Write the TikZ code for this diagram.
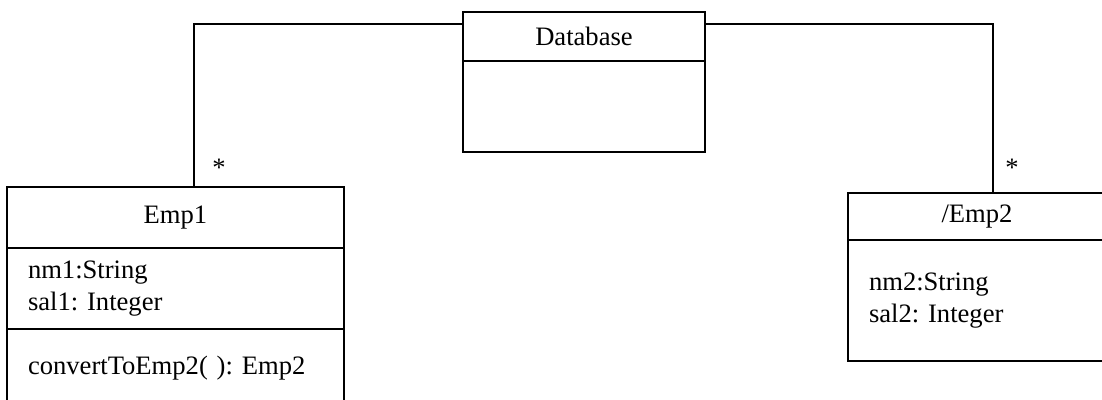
\documentclass[tikz,border=0pt]{standalone}
\usepackage{fontspec}
\setmainfont{Liberation Serif}
\usetikzlibrary{positioning}
\frenchspacing

\tikzset{
  compart/.style={draw, line width=2pt, inner sep=0pt, outer sep=0pt}, % une case de classe
  attrs/.style={compart, align=left, inner xsep=21pt}, % case des attributs
  assoc/.style={line width=2pt}, % trait d'association
  mult/.style={inner sep=0pt} % multiplicite
}

\begin{document}
\begin{tikzpicture}[x=1pt, y=-1pt, font=\fontsize{26.6}{32}\selectfont]
\useasboundingbox (0,0) rectangle (1102,399);
\clip (0,0) rectangle (1102,399);
% classe Database
\node[compart, minimum width=242pt, minimum height=49pt] (dbhead) at (584,36.5) {Database};
\node[compart, minimum width=242pt, minimum height=91pt, below=0pt of dbhead] (dbbody) {};
% classe Emp1
\node[compart, minimum width=337pt, minimum height=61pt] (e1head) at (175.5,217.5) {Emp1};
\node[attrs, text width=295pt, minimum height=81pt, below=0pt of e1head] (e1attr) {nm1:String\\sal1: Integer};
\node[attrs, text width=295pt, minimum height=78pt, below=0pt of e1attr] (e1ops) {convertToEmp2( ): Emp2};
% classe /Emp2
\node[compart, minimum width=258pt, minimum height=47pt] (e2head) at (977,216.5) {/Emp2};
\node[attrs, text width=216pt, minimum height=121pt, below=0pt of e2head] (e2attr) {nm2:String\\sal2: Integer};
% associations
\draw[assoc] ([yshift=-12pt]dbhead.north west) -| ([xshift=18.5pt]e1head.north);
\draw[assoc] ([yshift=-12pt]dbhead.north east) -| ([xshift=16pt]e2head.north);
\node[mult] (m1) at (219,168) {*};
\node[mult] (m2) at (1012,168) {*};
\end{tikzpicture}
\end{document}
